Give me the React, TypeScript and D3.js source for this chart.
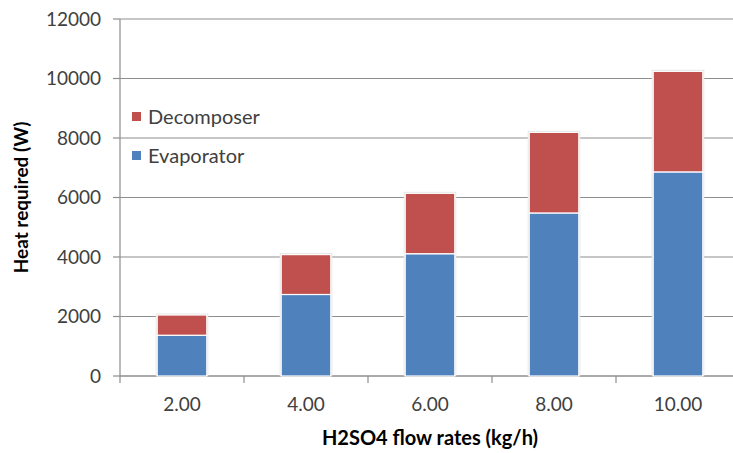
import React from 'react';
import * as d3 from 'd3';

// flow rates (kg/h) and heat duties (W)
const flowRates = ['2.00', '4.00', '6.00', '8.00', '10.00'];
const evaporator = [1370, 2740, 4110, 5480, 6860];
const decomposer = [680, 1340, 2030, 2710, 3380];
const yTicks = [0, 2000, 4000, 6000, 8000, 10000, 12000];

const W = 733;
const H = 453;
const left = 120;
const right = 740; // plot runs past the picture's edge, like the original
const top = 19;
const bottom = 376;

const blue = '#4F81BD';
const red = '#C0504D';
const grid = '#8E8E8E';
const font = 'Lato, "Open Sans", sans-serif';

export default function App() {
  const x = d3.scaleBand<string>().domain(flowRates).range([left, right]).paddingInner(0.6).paddingOuter(0.3);
  const y = d3.scaleLinear().domain([0, 12000]).range([bottom, top]);
  const step = x.step();

  const rows = flowRates.map((f, i) => ({ f, e: evaporator[i], d: decomposer[i] }));
  const stack = d3.stack<any>().keys(['e', 'd'])(rows);
  const colors = [blue, red];

  return (
    <svg width={W} height={H} style={{ position: 'absolute', left: 0, top: 0, background: '#fff' }}>
      {/* gridlines */}
      {yTicks.map(t => (
        <line key={t} x1={left} x2={right} y1={y(t)} y2={y(t)} stroke={grid} strokeWidth={1.2} />
      ))}
      {/* y ticks + labels */}
      {yTicks.map(t => (
        <g key={'yt' + t}>
          <line x1={left - 7} x2={left} y1={y(t)} y2={y(t)} stroke={grid} strokeWidth={1.2} />
          <text x={101} y={y(t)} dy="0.35em" textAnchor="end" fontFamily={font} fontSize={19} fill="#404040">
            {t}
          </text>
        </g>
      ))}
      {/* axes */}
      <line x1={left} x2={left} y1={top} y2={bottom} stroke={grid} strokeWidth={1.2} />
      <line x1={left} x2={right} y1={bottom} y2={bottom} stroke={grid} strokeWidth={1.2} />
      {flowRates.map((f, i) => (
        <line key={'xt' + f} x1={left + step * i} x2={left + step * i} y1={bottom} y2={bottom + 7} stroke={grid} strokeWidth={1.2} />
      ))}
      {/* bar halo */}
      {rows.map(r => (
        <rect key={'h' + r.f} x={x(r.f)! - 1.5} width={x.bandwidth() + 3} y={y(r.e + r.d) - 1.5}
          height={bottom - y(r.e + r.d) + 1.5} fill="#e4e4e4" />
      ))}
      {/* stacked bars */}
      {stack.map((s, k) => (
        <g key={s.key} fill={colors[k]}>
          {s.map((p, i) => (
            <rect key={i} x={x(flowRates[i])} width={x.bandwidth()} y={y(p[1])} height={y(p[0]) - y(p[1])}
              stroke="#fff" strokeWidth={1.2} />
          ))}
        </g>
      ))}
      {/* x labels */}
      {flowRates.map(f => (
        <text key={'xl' + f} x={x(f)! + x.bandwidth() / 2} y={411} textAnchor="middle" fontFamily={font} fontSize={19} fill="#404040">
          {f}
        </text>
      ))}
      {/* axis titles */}
      <text x={430} y={445} textAnchor="middle" fontFamily={font} fontSize={20} fontWeight="bold" fill="#000">
        H2SO4 flow rates (kg/h)
      </text>
      <text transform={`translate(28,${(top + bottom) / 2}) rotate(-90)`} textAnchor="middle" fontFamily={font}
        fontSize={19} fontWeight="bold" fill="#000">
        Heat required (W)
      </text>
      {/* legend */}
      <rect x={132} y={112} width={9} height={9} fill={red} />
      <text x={148} y={124} fontFamily={font} fontSize={20} fill="#404040">Decomposer</text>
      <rect x={132} y={151} width={9} height={9} fill={blue} />
      <text x={148} y={163} fontFamily={font} fontSize={20} fill="#404040">Evaporator</text>
    </svg>
  );
}
